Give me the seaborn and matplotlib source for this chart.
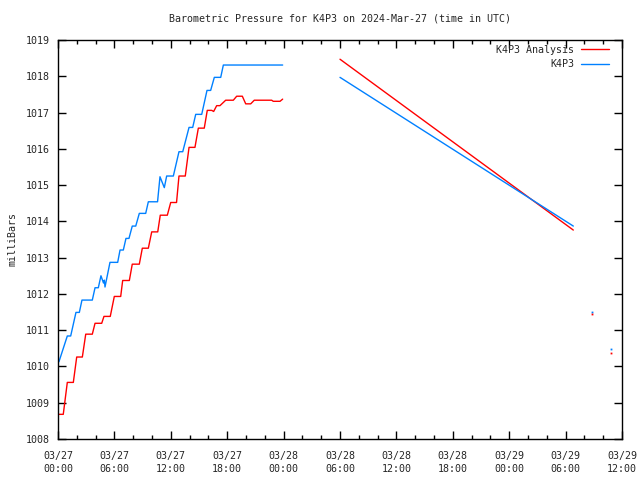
import numpy as np
import pandas as pd
import matplotlib
matplotlib.use("Agg")
import matplotlib.pyplot as plt
import seaborn as sns
from matplotlib.lines import Line2D
from matplotlib.ticker import MultipleLocator

# hours since 03/27 00:00 UTC, pressure in mb; separate segments = gaps in the record
obs_hours = [0.1, 0.99, 1.35, 1.91, 2.27, 2.55, 3.65, 3.94, 4.29, 4.57, 4.84, 4.93, 5.0,
             5.53, 6.35, 6.60, 6.95, 7.23, 7.55, 7.90, 8.27, 8.65, 9.33, 9.61, 10.59,
             10.85, 11.31, 11.56, 12.27, 12.87, 13.27, 13.94, 14.33, 14.65, 15.29, 15.85,
             16.24, 16.63, 17.31, 17.59, 23.90,
             30.0, 54.82,
             56.84,
             58.86]
obs_mb = [1010.13, 1010.84, 1010.84, 1011.49, 1011.49, 1011.83, 1011.83, 1012.17, 1012.17,
          1012.50, 1012.30, 1012.38, 1012.19, 1012.87, 1012.87, 1013.21, 1013.21, 1013.53,
          1013.53, 1013.87, 1013.87, 1014.22, 1014.22, 1014.54, 1014.54, 1015.23, 1014.93,
          1015.25, 1015.25, 1015.92, 1015.92, 1016.59, 1016.59, 1016.95, 1016.95, 1017.61,
          1017.61, 1017.97, 1017.97, 1018.31, 1018.31,
          1017.97, 1013.87,
          1011.49,
          1010.47]
obs_seg = [0] * 41 + [1, 1] + [2] + [3]

ana_hours = [0.1, 0.56, 0.99, 1.63, 1.99, 2.59, 2.95, 3.65, 3.94, 4.65, 4.89, 5.56, 5.99,
             6.67, 6.88, 7.59, 7.90, 8.65, 8.97, 9.61, 9.97, 10.61, 10.88, 11.63, 11.99,
             12.61, 12.87, 13.54, 13.94, 14.57, 14.93, 15.56, 15.88, 16.35, 16.56, 16.88,
             17.23, 17.84, 18.65, 19.01, 19.61, 19.97, 20.50, 20.88, 22.73, 22.90, 23.62,
             23.90,
             30.0, 54.82,
             56.84,
             58.86]
ana_mb = [1008.68, 1008.68, 1009.56, 1009.56, 1010.26, 1010.26, 1010.89, 1010.89, 1011.19,
          1011.19, 1011.38, 1011.38, 1011.93, 1011.93, 1012.37, 1012.37, 1012.82, 1012.82,
          1013.26, 1013.26, 1013.71, 1013.71, 1014.17, 1014.17, 1014.52, 1014.52, 1015.25,
          1015.25, 1016.04, 1016.04, 1016.57, 1016.57, 1017.06, 1017.06, 1017.03, 1017.19,
          1017.19, 1017.34, 1017.34, 1017.45, 1017.45, 1017.24, 1017.24, 1017.34, 1017.34,
          1017.31, 1017.31, 1017.37,
          1018.47, 1013.76,
          1011.44,
          1010.36]
ana_seg = [0] * 48 + [1, 1] + [2] + [3]

xtick_hours = [0, 6, 12, 18, 24, 30, 36, 42, 48, 54, 60]
xtick_labels = ["03/27\n00:00", "03/27\n06:00", "03/27\n12:00", "03/27\n18:00",
                "03/28\n00:00", "03/28\n06:00", "03/28\n12:00", "03/28\n18:00",
                "03/29\n00:00", "03/29\n06:00", "03/29\n12:00"]

df = pd.concat([
    pd.DataFrame({"hour": ana_hours, "mb": ana_mb, "seg": ana_seg, "series": "K4P3 Analysis"}),
    pd.DataFrame({"hour": obs_hours, "mb": obs_mb, "seg": obs_seg, "series": "K4P3"}),
], ignore_index=True)
counts = df.groupby(["series", "seg"])["hour"].transform("count")
lines_df = df[counts > 1]
dots_df = df[counts == 1]

colors = {"K4P3 Analysis": "#ff0000", "K4P3": "#0080ff"}

sns.set_style("ticks")
plt.rcParams["font.family"] = ["DejaVu Sans Mono"]
plt.rcParams["font.size"] = 7.2

fig = plt.figure(figsize=(6.4, 4.8), dpi=100)
ax = fig.add_axes([58 / 640, 1 - 439 / 480, 564 / 640, 399 / 480])

sns.lineplot(data=lines_df, x="hour", y="mb", hue="series", units="seg", estimator=None,
             palette=colors, linewidth=1, legend=False, ax=ax)
# single isolated readings
for name, grp in dots_df.groupby("series"):
    ax.plot(grp["hour"], grp["mb"], linestyle="none", marker="s", markersize=1.3,
            markeredgewidth=0, color=colors[name])

ax.set_xlim(0, 60)
ax.set_ylim(1008, 1019)
ax.set_xticks(xtick_hours)
ax.set_xticklabels(xtick_labels, linespacing=1.3)
ax.xaxis.set_minor_locator(MultipleLocator(2))
ax.yaxis.set_major_locator(MultipleLocator(1))
ax.tick_params(which="both", direction="in", top=True, right=True, color="black",
               labelsize=7.2)
ax.tick_params(axis="x", pad=9)
ax.tick_params(axis="y", pad=6)
ax.tick_params(which="major", length=6, width=1)
ax.tick_params(which="minor", length=3, width=1)
for s in ax.spines.values():
    s.set_color("black")
    s.set_linewidth(1)

ax.set_xlabel("")
ax.set_ylabel("milliBars", fontsize=7.2, labelpad=6)
ax.set_title("Barometric Pressure for K4P3 on 2024-Mar-27 (time in UTC)", fontsize=7.2,
             y=1.0, pad=13)

handles = [Line2D([], [], color=colors[k], linewidth=1) for k in ["K4P3 Analysis", "K4P3"]]
ax.legend(handles, ["K4P3 Analysis", "K4P3"], loc="upper right", frameon=False,
          markerfirst=False, fontsize=7.2, handlelength=2.8, handletextpad=0.6,
          labelspacing=0.45, borderaxespad=0.95, bbox_to_anchor=(1, 1.0225))

fig.savefig("out.png", dpi=100)
